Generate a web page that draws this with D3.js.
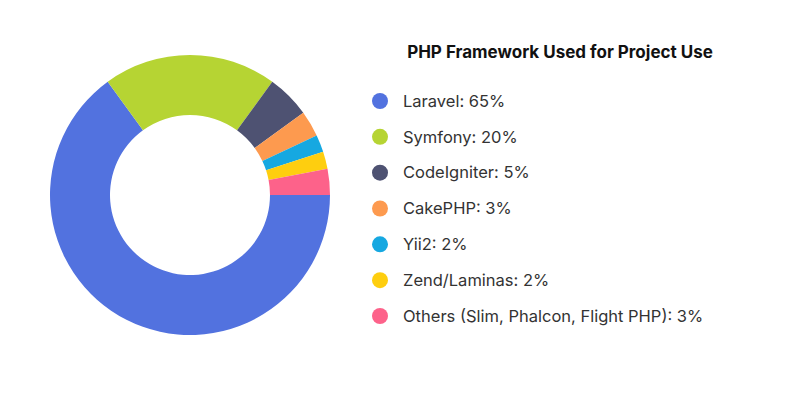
<!DOCTYPE html>
<html><head><meta charset="utf-8">
<script src="https://cdn.jsdelivr.net/npm/d3@7"></script>
<style>body{margin:0;background:#fff;font-family:Inter,"Open Sans",sans-serif;}</style>
</head><body>
<svg id="chart" width="800" height="400"></svg>
<script>
var categories = ["Laravel", "Symfony", "CodeIgniter", "CakePHP", "Yii2", "Zend/Laminas", "Others (Slim, Phalcon, Flight PHP)"];
var shares = [65, 20, 5, 3, 2, 2, 3];
var colors = ["#5272df", "#b6d433", "#4e5272", "#fd9a4f", "#16a8e1", "#fece0f", "#fd628a"];

var svg = d3.select("#chart");
var data = categories.map(function(c, i){ return {name: c, value: shares[i]}; });

var pie = d3.pie().value(function(d){ return d.value; }).sort(null)
  .startAngle(Math.PI / 2).endAngle(Math.PI / 2 + 2 * Math.PI);
var arc = d3.arc().innerRadius(80).outerRadius(140);
var color = d3.scaleOrdinal().domain(categories).range(colors);

svg.append("g").attr("transform", "translate(190,195)")
  .selectAll("path").data(pie(data)).enter().append("path")
  .attr("d", arc).attr("fill", function(d){ return color(d.data.name); });

svg.append("text").attr("x", 560).attr("y", 58).attr("text-anchor", "middle")
  .attr("font-size", 17).attr("font-weight", "bold").attr("fill", "#111")
  .text("PHP Framework Used for Project Use");

var y = d3.scalePoint().domain(categories).range([101, 316]);
var items = svg.append("g").selectAll("g").data(data).enter().append("g")
  .attr("transform", function(d){ return "translate(380," + y(d.name) + ")"; });
items.append("circle").attr("r", 8).attr("fill", function(d){ return color(d.name); });
items.append("text").attr("x", 23).attr("dy", "0.35em").attr("font-size", 16.5).attr("fill", "#333")
  .text(function(d){ return d.name + ": " + d.value + "%"; });
</script>
</body></html>
